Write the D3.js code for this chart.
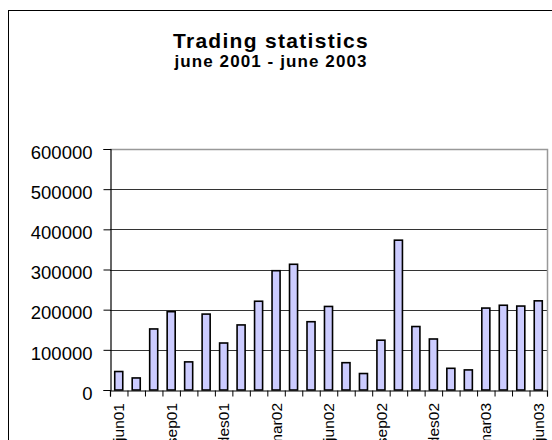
<!DOCTYPE html>
<html>
<head>
<meta charset="utf-8">
<script src="https://cdn.jsdelivr.net/npm/d3@7"></script>
<style>
  html, body { margin: 0; padding: 0; background: #fff; }
  svg { display: block; }
  text { font-family: "Liberation Sans", Arial, Helvetica, sans-serif; }
</style>
</head>
<body>
<svg id="chart" width="552" height="440"></svg>
<script>
const titleText = "Trading statistics";
const subtitleText = "june 2001 - june 2003";
const categories = ["jun01","jul01","aug01","sep01","oct01","nov01","des01","jan02","feb02",
  "mar02","apr02","mai02","jun02","jul02","aug02","sep02","okt02","nov02","des02","jan03",
  "feb03","mar03","apr03","mai03","jun03"];
const values = [46000, 30000, 152000, 195000, 70000, 189000, 117000, 162000, 221000,
  297000, 313000, 170000, 208000, 68000, 41000, 124000, 373000, 158000, 127000, 54000,
  50000, 204000, 211000, 209000, 222000];
const labelCategories = ["jun01","sep01","des01","mar02","jun02","sep02","des02","mar03","jun03"];
const yTicks = [0, 100000, 200000, 300000, 400000, 500000, 600000];

const svg = d3.select("#chart");
const plot = { left: 110, right: 547, top: 149, bottom: 390 };

// outer chart border (extends beyond the visible frame on right/bottom)
svg.append("rect")
  .attr("x", 8.5).attr("y", 10.5)
  .attr("width", 600).attr("height", 500)
  .attr("fill", "#fff").attr("stroke", "#000").attr("stroke-width", 1);

// titles
svg.append("text")
  .attr("x", 271).attr("y", 48)
  .attr("text-anchor", "middle")
  .style("font-size", "21px").style("font-weight", "bold")
  .style("letter-spacing", "1.3px")
  .text(titleText);
svg.append("text")
  .attr("x", 271).attr("y", 67)
  .attr("text-anchor", "middle")
  .style("font-size", "17px").style("font-weight", "bold")
  .style("letter-spacing", "1.1px")
  .text(subtitleText);

const x = d3.scaleBand().domain(categories).range([plot.left, plot.right]).paddingInner(0).paddingOuter(0);
const y = d3.scaleLinear().domain([0, 600000]).range([plot.bottom, plot.top]);

// gridlines
svg.append("g").selectAll("line")
  .data(yTicks.filter(d => d > 0 && d < 600000))
  .join("line")
  .attr("x1", plot.left).attr("x2", plot.right)
  .attr("y1", d => Math.round(y(d)) + 0.5).attr("y2", d => Math.round(y(d)) + 0.5)
  .attr("stroke", "#333").attr("stroke-width", 1);

// plot area border top/right (gray)
svg.append("path")
  .attr("d", `M${plot.left},${plot.top + 0.5}H${plot.right + 0.5}V${plot.bottom}`)
  .attr("fill", "none").attr("stroke", "#999").attr("stroke-width", 1.5);

// bars
const bw = x.bandwidth() * 0.46;
svg.append("g").selectAll("rect")
  .data(values)
  .join("rect")
  .attr("x", (d, i) => x(categories[i]) + (x.bandwidth() - bw) / 2)
  .attr("y", d => y(d))
  .attr("width", bw)
  .attr("height", d => y(0) - y(d))
  .attr("fill", "#ccccff")
  .attr("stroke", "#000").attr("stroke-width", 1.6);

// y axis
const yAxis = svg.append("g")
  .attr("transform", `translate(${plot.left + 0.5},0)`)
  .call(d3.axisLeft(y).tickValues(yTicks).tickSize(7).tickPadding(11).tickFormat(d3.format("d")));
yAxis.select(".domain").attr("stroke", "#000").attr("stroke-width", 1.2);
yAxis.selectAll(".tick line").attr("stroke", "#000");
yAxis.selectAll("text")
  .attr("dy", "0.5em")
  .style("font-size", "18.5px").attr("fill", "#000");

// x axis boundary ticks
const xb = d3.scaleLinear().domain([0, categories.length]).range([plot.left, plot.right]);
const xTickAxis = svg.append("g")
  .attr("transform", `translate(0,${plot.bottom + 0.5})`)
  .call(d3.axisBottom(xb).tickValues(d3.range(categories.length + 1)).tickSize(6).tickFormat(""));
xTickAxis.select(".domain").attr("stroke", "#000").attr("stroke-width", 1.2);
xTickAxis.selectAll(".tick line").attr("stroke", "#000");

// x labels (every third category), cut off by the frame bottom as in the reference
const xLabelAxis = svg.append("g")
  .attr("transform", `translate(0,${plot.bottom})`)
  .call(d3.axisBottom(x).tickValues(labelCategories).tickSize(0));
xLabelAxis.select(".domain").remove();
xLabelAxis.selectAll("text")
  .attr("transform", "rotate(-90)")
  .attr("x", -13).attr("y", 0)
  .attr("dy", "0.36em")
  .style("text-anchor", "end")
  .style("font-size", "15.5px").attr("fill", "#000");
</script>
</body>
</html>
